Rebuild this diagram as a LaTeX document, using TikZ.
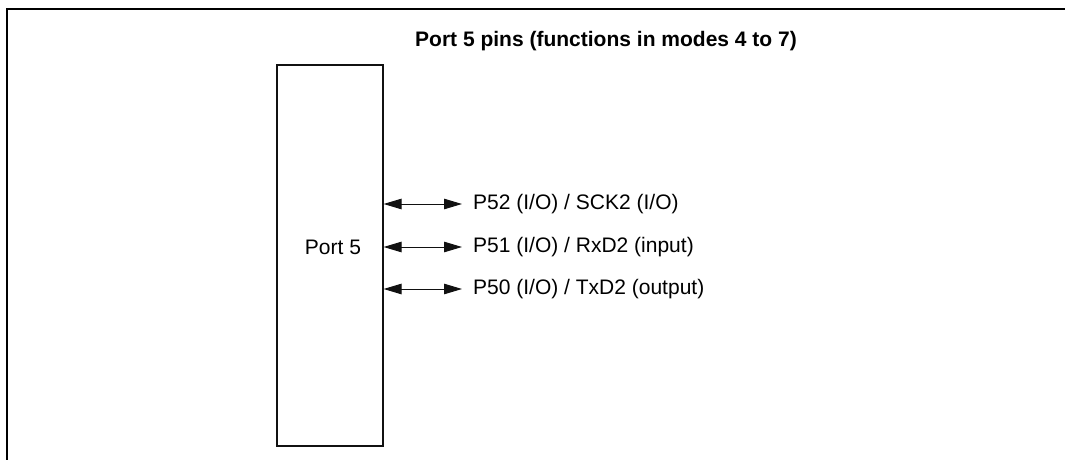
\documentclass[tikz,border=0pt]{standalone}
\usepackage{fontspec}
\setmainfont{Liberation Sans}
\usepackage{tikz}
\usetikzlibrary{arrows.meta,positioning,calc}
\definecolor{lineblack}{HTML}{111111}

\begin{document}
\begin{tikzpicture}[x=1pt,y=-1pt,
  pinlabel/.style={font=\fontsize{21}{25}\selectfont,anchor=west,inner sep=0pt},
  portbox/.style={draw=lineblack,line width=1.1pt,minimum width=106pt,minimum height=381pt,inner sep=0pt},
  pinarrow/.style={draw=lineblack,line width=1pt,{Triangle[length=18pt,width=10.5pt]}-{Triangle[length=18pt,width=10.5pt]}}]
  \useasboundingbox (0,0) rectangle (1065,460);
  % open frame (top and left edges only)
  \draw[line width=1.8pt] (7,460)--(7,9)--(1065,9);
  % title
  \node[font=\bfseries\fontsize{21}{25}\selectfont,inner sep=0pt] (title) at (606,41) {Port 5 pins (functions in modes 4 to 7)};
  % port block
  \node[portbox] (port) at (330,255.5) {};
  \node[font=\fontsize{21}{25}\selectfont,inner sep=0pt] (portname) at (333,247.5) {Port 5};
  % pins
  \node[pinlabel] (p52) at (473,204) {P52 (I/O) / SCK2 (I/O)};
  \node[pinlabel] (p51) at (473,247) {P51 (I/O) / RxD2 (input)};
  \node[pinlabel] (p50) at (473,289) {P50 (I/O) / TxD2 (output)};
  \foreach \p in {p52,p51,p50}
    \draw[pinarrow] (port.east |- \p.west) -- ([xshift=-11pt]\p.west);
\end{tikzpicture}
\end{document}
